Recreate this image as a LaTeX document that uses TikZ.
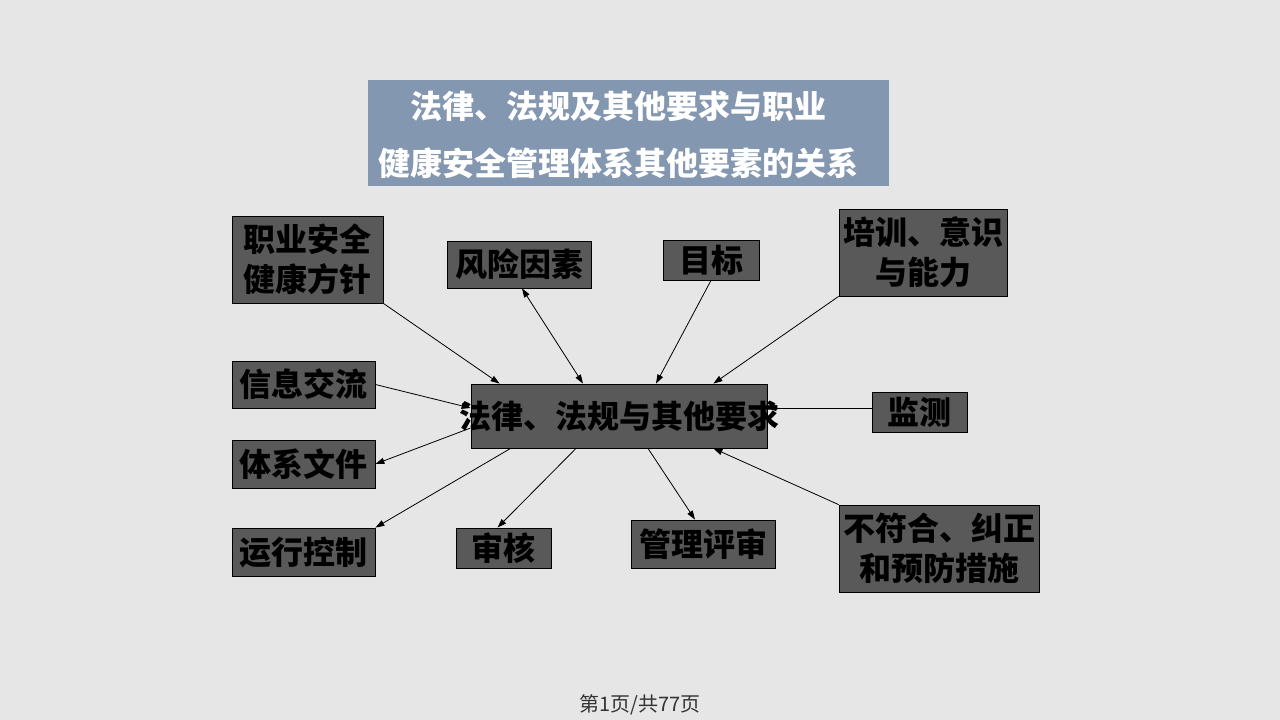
\documentclass[tikz,border=0pt]{standalone}
\usepackage{fontspec}
\setmainfont{Noto Sans CJK SC}
\usetikzlibrary{positioning,
        arrows.meta}
\definecolor{pagegray}{HTML}{E6E6E6}
\definecolor{boxgray}{HTML}{595959}
\definecolor{titleblue}{HTML}{8497B0}
\definecolor{footgray}{HTML}{333333}
\pgfdeclarelayer{bg}
\pgfdeclarelayer{edges}
\pgfsetlayers{bg,edges,main}

\begin{document}
\begin{tikzpicture}[x=1pt,y=-1pt,
        item/.style={draw=black,line width=0.8pt,fill=boxgray,inner sep=0pt,align=center,
            font=\fontsize{32}{40}\selectfont\bfseries},
        link/.style={-{Triangle[length=9pt,width=6pt]},line width=0.8pt}]
            \begin{pgfonlayer}{bg}
                \fill [pagegray] (0,0) rectangle (1280,720);
            \end{pgfonlayer}
            \useasboundingbox (0,0) rectangle (1280,720);

            \node [fill=titleblue,minimum width=521pt,minimum height=106pt,inner sep=0pt] (title) at (628.5,133) {};
            \node [text=white,align=center,font=\fontsize{32}{57}\selectfont\bfseries] (titletext) at ([xshift=-10pt,yshift=-1.5pt]title.center) {法律、法规及其他要求与职业\\健康安全管理体系其他要素的关系};

            \node [item,minimum width=151pt,minimum height=87pt] (policy) at (307.5,259.5) {职业安全\\健康方针};
            \node [item,minimum width=144pt,minimum height=47pt] (risk) at (519,264.5) {风险因素};
            \node [item,minimum width=96pt,minimum height=40pt] (target) at (711,260) {目标};
            \node [item,minimum width=168pt,minimum height=87pt] (train) at (923,252.5) {培训、意识\\与能力};
            \node [item,minimum width=143pt,minimum height=47pt] (info) at (303.5,384.5) {信息交流};
            \node [item,minimum width=296pt,minimum height=64pt] (law) at (619,416) {\makebox[0pt]{法律、法规与其他要求}};
            \node [item,minimum width=95pt,minimum height=40pt] (monitor) at (919.5,412) {监测};
            \node [item,minimum width=143pt,minimum height=48pt] (docs) at (303.5,464) {体系文件};
            \node [item,minimum width=143pt,minimum height=48pt] (ops) at (303.5,552) {运行控制};
            \node [item,minimum width=95pt,minimum height=40pt] (audit) at (503.5,548) {审核};
            \node [item,minimum width=144pt,minimum height=48pt] (review) at (703,544) {管理评审};
            \node [item,minimum width=200pt,minimum height=87pt] (nonconf) at (939,548.5) {不符合、纠正\\和预防措施};

            \node [text=footgray,font=\fontsize{20}{24}\selectfont] (pageno) at (640,705) {第1页/共77页};

            \begin{pgfonlayer}{edges}
            \draw [link] (policy.south east) -- ([xshift=29pt]law.north west);
            \draw [link,{Triangle[length=9pt,width=6pt]}-{Triangle[length=9pt,width=6pt]}] ([xshift=3pt]risk.south) -- ([xshift=-36pt]law.north);
            \draw [link] (target.south) -- ([xshift=37pt]law.north);
            \draw [link] (train.south west) -- ([xshift=-54pt]law.north east);
            \draw [link] (info.east) -- ([yshift=8pt]law.west);
            \draw [link] ([yshift=4pt]monitor.west) -- ([yshift=8pt]law.east);
            \draw [link] ([yshift=-12pt]law.west) -- (docs.east);
            \draw [link] ([xshift=40pt]law.south west) -- (ops.north east);
            \draw [link] ([xshift=-43pt]law.south) -- ([xshift=-6pt]audit.north);
            \draw [link] ([xshift=29pt]law.south) -- ([xshift=-8pt]review.north);
            \draw [link] (nonconf.north west) -- ([xshift=-54pt]law.south east);
            \end{pgfonlayer}
        \end{tikzpicture}
\end{document}
